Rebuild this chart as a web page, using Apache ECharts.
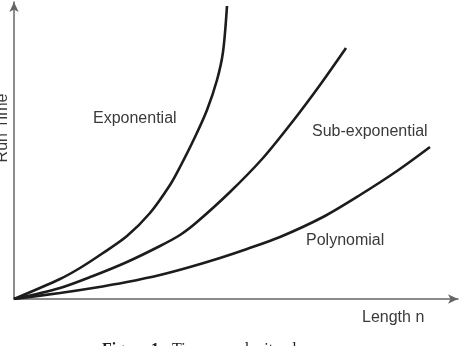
<!DOCTYPE html>
<html><head><meta charset="utf-8">
<script src="https://cdn.jsdelivr.net/npm/echarts@6/dist/echarts.min.js"></script>
<style>html,body{margin:0;padding:0;background:#fff}#c{width:459px;height:346px}</style>
</head><body><div id="c"></div>
<script>
// Values (arbitrary units: x = length n, y = run time)
const exponential = [[0,0],[46,20],[66,31],[89,46],[113,63],[136,86],[156,114],[166,132],[181,162],[193,189],[203,219],[209,247],[213,293]];
const subExponential = [[0,0],[46,11],[79,23],[113,37],[146,53],[166,64],[183,77],[216,107],[249,141],[279,178],[306,214],[332,251]];
const polynomial = [[0,0],[46,6],[79,11],[113,17],[146,24],[176,32],[206,41],[233,50],[266,62],[309,82],[346,104],[383,128],[416,152]];
const seriesNames = ['Exponential','Sub-exponential','Polynomial'];
const xName = 'Length n';
const yName = 'Run Time';
const captionLead = 'Figure 1.';
const captionText = 'Time complexity classes';

const chart = echarts.init(document.getElementById('c'));
const lineStyle = {color:'#1c1c1c', width:2.6};
const axisLine = {show:true, symbol:['none','arrow'], symbolSize:[7,10], lineStyle:{color:'#666', width:1.5}};
const txt = {fontFamily:'Liberation Sans, Arial, sans-serif', fontSize:16, fill:'#3a3a3a', verticalAlign:'middle'};
const cap = {fontFamily:'Liberation Serif, Times New Roman, serif', fontSize:16, fill:'#222', verticalAlign:'middle'};
chart.setOption({
  animation:false,
  grid:{left:14, right:1, top:2, bottom:47},
  xAxis:{type:'value', min:0, max:444, axisLine:axisLine, axisTick:{show:false}, axisLabel:{show:false}, splitLine:{show:false}},
  yAxis:{type:'value', min:0, max:297, axisLine:axisLine, axisTick:{show:false}, axisLabel:{show:false}, splitLine:{show:false}},
  series:[exponential, subExponential, polynomial].map((d,i)=>({
    name:seriesNames[i], type:'line', data:d, smooth:0.3, showSymbol:false, lineStyle:lineStyle
  })),
  graphic:[
    {type:'text', x:93, y:119, style:Object.assign({text:seriesNames[0]}, txt)},
    {type:'text', x:312, y:131.5, style:Object.assign({text:seriesNames[1]}, txt)},
    {type:'text', x:306, y:241, style:Object.assign({text:seriesNames[2]}, txt)},
    {type:'text', x:362, y:317.5, style:Object.assign({text:xName}, txt)},
    {type:'text', x:2.5, y:128, rotation:Math.PI/2, style:Object.assign({text:yName, align:'center'}, txt)},
    {type:'text', x:102, y:350, style:Object.assign({text:captionLead, fontWeight:'bold'}, cap)},
    {type:'text', x:172, y:350, style:Object.assign({text:captionText}, cap)}
  ]
});
</script></body></html>
